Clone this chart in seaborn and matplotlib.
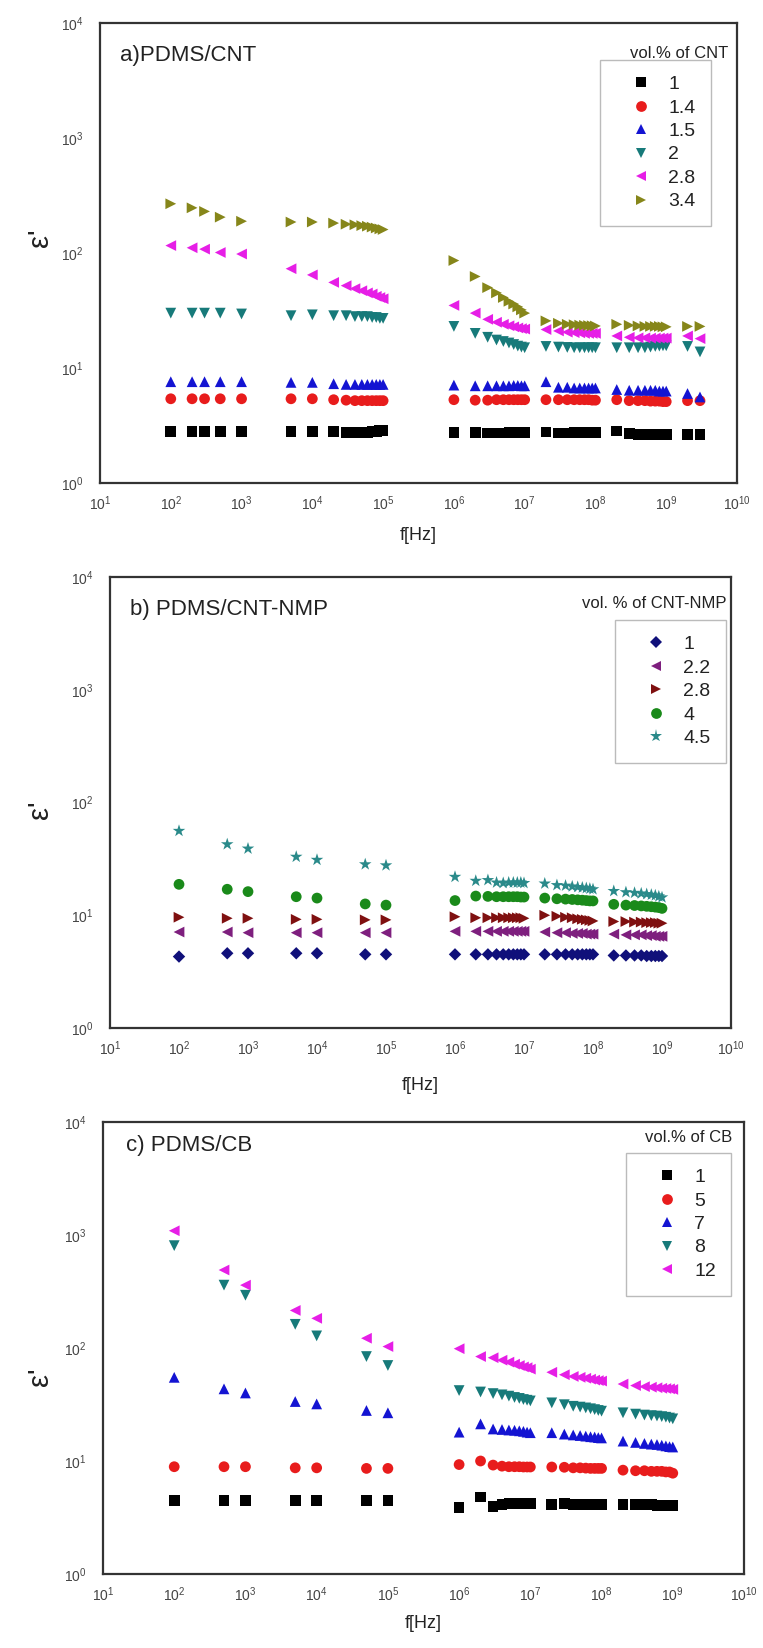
import numpy as np
import pandas as pd
import matplotlib
matplotlib.use("Agg")
import matplotlib.pyplot as plt
import matplotlib.ticker as mticker
import seaborn as sns

# ---------------- data ----------------
freq_a = [1e2, 2e2, 3e2, 5e2, 1e3,
          5e3, 1e4, 2e4, 3e4, 4e4, 5e4, 6e4, 7e4, 8e4, 9e4, 1e5,
          1e6, 2e6, 3e6, 4e6, 5e6, 6e6, 7e6, 8e6, 9e6, 1e7,
          2e7, 3e7, 4e7, 5e7, 6e7, 7e7, 8e7, 9e7, 1e8,
          2e8, 3e8, 4e8, 5e8, 6e8, 7e8, 8e8, 9e8, 1e9,
          2e9, 3e9]

cnt_1 = [2.8, 2.8, 2.8, 2.8, 2.8,
         2.8, 2.8, 2.8, 2.75, 2.75, 2.75, 2.75, 2.8, 2.8, 2.85, 2.85,
         2.75, 2.75, 2.72, 2.72, 2.72, 2.73, 2.73, 2.74, 2.74, 2.75,
         2.78, 2.72, 2.72, 2.73, 2.73, 2.74, 2.74, 2.75, 2.75,
         2.83, 2.68, 2.66, 2.66, 2.65, 2.65, 2.66, 2.67, 2.66,
         2.65, 2.63]
cnt_1_4 = [5.4, 5.4, 5.4, 5.4, 5.4,
           5.4, 5.4, 5.3, 5.25, 5.2, 5.2, 5.2, 5.2, 5.2, 5.2, 5.2,
           5.3, 5.25, 5.25, 5.3, 5.3, 5.3, 5.3, 5.3, 5.3, 5.3,
           5.3, 5.3, 5.3, 5.3, 5.3, 5.3, 5.3, 5.25, 5.25,
           5.3, 5.2, 5.2, 5.2, 5.15, 5.15, 5.15, 5.1, 5.1,
           5.2, 5.2]
cnt_1_5 = [7.6, 7.6, 7.6, 7.6, 7.6,
           7.5, 7.5, 7.3, 7.2, 7.2, 7.2, 7.2, 7.2, 7.2, 7.2, 7.2,
           7.1, 7.0, 7.0, 7.0, 7.0, 7.0, 7.05, 7.05, 7.0, 7.0,
           7.6, 6.8, 6.8, 6.7, 6.7, 6.7, 6.7, 6.7, 6.7,
           6.5, 6.4, 6.4, 6.4, 6.4, 6.4, 6.3, 6.3, 6.3,
           6.0, 5.6]
cnt_2 = [30, 30, 30, 30, 29.5,
         28.5, 29, 28.5, 28.5, 28, 28, 28, 27.5, 27.5, 27, 27,
         23, 20, 18.5, 17.5, 17, 16.5, 16, 15.5, 15.2, 15,
         15.4, 15.2, 15.1, 15, 15, 15, 15, 15, 15,
         15, 15, 15, 15, 15.2, 15.4, 15.5, 15.6, 15.6,
         15.4, 13.8]
cnt_2_8 = [116, 111, 108, 101, 98,
           73, 64.5, 55.5, 52, 49, 47, 45, 44, 42, 41, 40,
           35, 30, 26.5, 25, 24, 23.3, 22.8, 22.3, 22, 21.8,
           21.6, 21, 20.5, 20.3, 20.2, 20, 20, 20, 20,
           19, 18.5, 18.3, 18.3, 18.2, 18.2, 18.2, 18.2, 18.2,
           19, 18]
cnt_3_4 = [268, 247, 230, 205, 189,
           186, 186, 182, 178, 176, 173, 171, 168, 165, 162, 160,
           86, 62.5, 50, 45, 41, 38, 36, 34, 32, 30,
           25.7, 24.5, 24, 23.8, 23.6, 23.5, 23.4, 23.3, 23.2,
           24, 23.5, 23.2, 23, 23, 23, 23, 22.8, 22.8,
           23, 23]
labels_a = ["1", "1.4", "1.5", "2", "2.8", "3.4"]

freq_bc = [1e2, 5e2, 1e3, 5e3, 1e4, 5e4, 1e5,
           1e6, 2e6, 3e6, 4e6, 5e6, 6e6, 7e6, 8e6, 9e6, 1e7,
           2e7, 3e7, 4e7, 5e7, 6e7, 7e7, 8e7, 9e7, 1e8,
           2e8, 3e8, 4e8, 5e8, 6e8, 7e8, 8e8, 9e8, 1e9]

nmp_1 = [4.3, 4.6, 4.6, 4.6, 4.6, 4.5, 4.5,
         4.5, 4.5, 4.5, 4.5, 4.5, 4.5, 4.5, 4.5, 4.5, 4.5,
         4.5, 4.5, 4.5, 4.5, 4.5, 4.5, 4.5, 4.5, 4.5,
         4.4, 4.4, 4.4, 4.4, 4.35, 4.35, 4.35, 4.35, 4.35]
nmp_2_2 = [7.1, 7.1, 7.0, 7.0, 7.0, 7.0, 7.0,
           7.2, 7.2, 7.2, 7.2, 7.2, 7.2, 7.2, 7.2, 7.2, 7.2,
           7.1, 7.0, 7.0, 6.9, 6.9, 6.9, 6.8, 6.8, 6.8,
           6.8, 6.7, 6.7, 6.7, 6.6, 6.6, 6.5, 6.5, 6.5]
nmp_2_8 = [9.6, 9.4, 9.4, 9.2, 9.2, 9.1, 9.1,
           9.7, 9.5, 9.5, 9.5, 9.5, 9.5, 9.5, 9.5, 9.5, 9.4,
           10, 9.8, 9.6, 9.5, 9.3, 9.2, 9.1, 9.0, 8.9,
           8.8, 8.8, 8.7, 8.7, 8.6, 8.6, 8.6, 8.5, 8.5]
nmp_4 = [18.8, 17, 16.2, 14.6, 14.2, 12.6, 12.3,
         13.5, 14.8, 14.7, 14.6, 14.6, 14.6, 14.6, 14.6, 14.5, 14.5,
         14.2, 14.0, 13.9, 13.8, 13.7, 13.6, 13.5, 13.4, 13.4,
         12.5, 12.3, 12.2, 12.1, 12.0, 11.9, 11.8, 11.7, 11.5]
nmp_4_5 = [56, 42.6, 39, 33, 31, 28.3, 27.7,
           21.9, 20.2, 20.5, 19.5, 19.3, 19.5, 19.5, 19.5, 19.5, 19.3,
           19.1, 18.5, 18.3, 18, 17.8, 17.6, 17.4, 17.2, 17.0,
           16.4, 16, 15.8, 15.6, 15.4, 15.2, 15, 14.7, 14.4]
labels_b = ["1", "2.2", "2.8", "4", "4.5"]

cb_1 = [4.5, 4.5, 4.5, 4.5, 4.5, 4.5, 4.5,
        3.9, 4.8, 3.95, 4.1, 4.2, 4.2, 4.2, 4.2, 4.2, 4.2,
        4.1, 4.2, 4.15, 4.15, 4.15, 4.15, 4.15, 4.15, 4.15,
        4.1, 4.1, 4.1, 4.1, 4.05, 4.05, 4.05, 4.05, 4.05]
cb_5 = [8.9, 8.9, 8.9, 8.7, 8.7, 8.6, 8.6,
        9.3, 10, 9.2, 9.0, 8.9, 8.9, 8.9, 8.85, 8.85, 8.85,
        8.85, 8.8, 8.7, 8.7, 8.65, 8.6, 8.6, 8.6, 8.6,
        8.3, 8.2, 8.2, 8.1, 8.1, 8.1, 8.0, 8.0, 7.8]
cb_7 = [55, 43.5, 40, 33.6, 32, 28, 26.7,
        18, 21.3, 19.2, 19, 18.8, 18.7, 18.5, 18.3, 18, 17.8,
        17.8, 17.3, 17, 16.8, 16.6, 16.4, 16.3, 16.1, 16,
        15, 14.6, 14.3, 14.1, 14, 13.8, 13.6, 13.4, 13.3]
cb_8 = [805, 360, 293, 162, 128, 84, 70,
        42, 40.8, 39.5, 38.5, 37.5, 36.5, 35.8, 35, 34.5, 34,
        32.7, 31.5, 30.5, 30, 29.5, 29, 28.5, 28, 27.6,
        26.7, 26, 25.5, 25.2, 25, 24.7, 24.4, 24, 23.6]
cb_12 = [1090, 490, 360, 215, 183, 122, 103,
         98.6, 84, 82, 78, 75, 72, 70, 68, 67, 65,
         61, 58, 56, 55, 54, 53, 52, 51.5, 51,
         48, 46.5, 45.5, 45, 44.5, 44, 43.8, 43.5, 43]
labels_c = ["1", "5", "7", "8", "12"]


def long_frame(freq, series, labels):
    rows = []
    for lab, vals in zip(labels, series):
        for f, v in zip(freq, vals):
            rows.append((f, v, lab))
    return pd.DataFrame(rows, columns=["f", "eps", "vol"])


df_a = long_frame(freq_a, [cnt_1, cnt_1_4, cnt_1_5, cnt_2, cnt_2_8, cnt_3_4], labels_a)
df_b = long_frame(freq_bc, [nmp_1, nmp_2_2, nmp_2_8, nmp_4, nmp_4_5], labels_b)
df_c = long_frame(freq_bc, [cb_1, cb_5, cb_7, cb_8, cb_12], labels_c)

# ---------------- style ----------------
sns.set_theme(style="white")
plt.rcParams["font.family"] = ["Liberation Sans", "DejaVu Sans"]

pal_a = dict(zip(labels_a, ["#000000", "#e81c1c", "#1414d2", "#177a7a", "#e61ee6", "#86861a"]))
mk_a = dict(zip(labels_a, ["s", "o", "^", "v", "<", ">"]))
pal_b = dict(zip(labels_b, ["#10107a", "#7e1f7e", "#7f1010", "#1a8a1a", "#2a8a8a"]))
mk_b = dict(zip(labels_b, ["D", "<", ">", "o", "*"]))
pal_c = dict(zip(labels_c, ["#000000", "#e81c1c", "#1414d2", "#177a7a", "#e61ee6"]))
mk_c = dict(zip(labels_c, ["s", "o", "^", "v", "<"]))

W, H = 763, 1648
fig = plt.figure(figsize=(W / 100, H / 100), dpi=100)


def frac(l, t, r, b):
    return [l / W, 1 - b / H, (r - l) / W, (b - t) / H]


def fx(x):
    return x / W


def fy(y):
    return 1 - y / H


panels = [
    (frac(100, 23, 737, 483), df_a, labels_a, pal_a, mk_a,
     "a)PDMS/CNT", (120, 55), "vol.% of CNT", (728, 53), (600, 60), 535, 238),
    (frac(110, 577, 731, 1028), df_b, labels_b, pal_b, mk_b,
     "b) PDMS/CNT-NMP", (130, 610), "vol. % of CNT-NMP", (726, 603), (615, 620), 1085, 810),
    (frac(103, 1122, 744, 1574), df_c, labels_c, pal_c, mk_c,
     "c) PDMS/CB", (126, 1145), "vol.% of CB", (732, 1138), (626, 1153), 1624, 1377),
]

for (rect, df, labs, pal, mk, title, tpos, legtitle, ltpos, lbox,
     xly, yly) in panels:
    ax = fig.add_axes(rect)
    sizes = {k: (90 if mk[k] == "*" else (40 if mk[k] == "D" else 60)) for k in labs}
    sns.scatterplot(data=df, x="f", y="eps", hue="vol", style="vol", hue_order=labs,
                    style_order=labs, palette=pal, markers=mk, size="vol", sizes=sizes,
                    size_order=labs, linewidth=0, ax=ax, legend="full")
    ax.set_xscale("log")
    ax.set_yscale("log")
    ax.set_xlim(10, 1e10)
    ax.set_ylim(1, 1e4)
    ax.xaxis.set_major_locator(mticker.LogLocator(base=10, numticks=20))
    ax.yaxis.set_major_locator(mticker.LogLocator(base=10, numticks=20))
    ax.xaxis.set_minor_locator(mticker.LogLocator(base=10, subs=np.arange(2, 10), numticks=20))
    ax.yaxis.set_minor_locator(mticker.LogLocator(base=10, subs=np.arange(2, 10), numticks=20))
    ax.tick_params(which="both", direction="in", top=False, right=False,
                   colors="#333333", labelsize=10, width=1.2)
    ax.tick_params(which="major", length=6)
    ax.tick_params(which="minor", length=3)
    ax.tick_params(axis="x", which="major", pad=8, labelcolor="#444444")
    ax.tick_params(axis="y", which="major", pad=12, labelcolor="#444444")
    for sp in ax.spines.values():
        sp.set_color("#333333")
        sp.set_linewidth(1.6)
    ax.set_xlabel("")
    ax.set_ylabel("")
    x_mid = (rect[0] + rect[2] / 2)
    fig.text(x_mid, fy(xly), "f[Hz]", fontsize=13, color="#222222",
             ha="center", va="center")
    fig.text(fx(40), fy(yly), "ε'", fontsize=21, color="#222222",
             ha="center", va="center", rotation=90)
    fig.text(fx(tpos[0]), fy(tpos[1]), title, fontsize=16, color="#222222",
             ha="left", va="center")
    handles, labels = ax.get_legend_handles_labels()
    fig.text(fx(ltpos[0]), fy(ltpos[1]), legtitle, fontsize=12, color="#222222",
             ha="right", va="center")
    leg = ax.legend(handles, labels, loc="upper left",
                    bbox_to_anchor=(fx(lbox[0]), fy(lbox[1])),
                    bbox_transform=fig.transFigure,
                    frameon=True, fancybox=False, edgecolor="#aaaaaa", fontsize=14,
                    handletextpad=0.1, labelspacing=0.3, borderpad=0.8,
                    handlelength=2.6, borderaxespad=0)
    leg.get_frame().set_linewidth(1.0)
    for t in leg.get_texts():
        t.set_color("#222222")

fig.savefig("out.png", dpi=100)
